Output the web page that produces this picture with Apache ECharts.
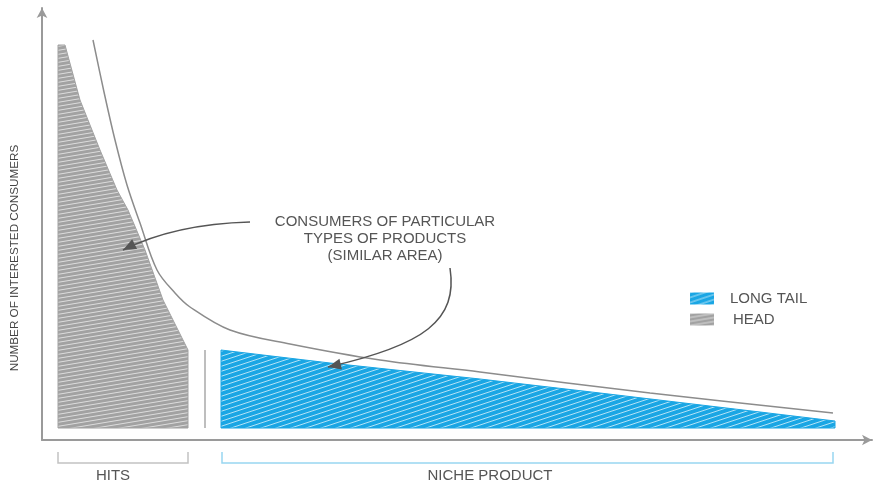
<!DOCTYPE html>
<html>
<head>
<meta charset="utf-8">
<script src="https://cdn.jsdelivr.net/npm/echarts@6/dist/echarts.min.js"></script>
<style>
html,body{margin:0;padding:0;background:#fff;}
#c{width:873px;height:486px;}
</style>
</head>
<body>
<div id="c"></div>
<script>
// ---- data (x: product rank scale, y: number of interested consumers) ----
const headX = [16, 16, 23, 38, 58, 75, 86, 103, 121, 146, 146];
const headY = [12, 395, 395, 340, 290, 250, 230, 190, 140, 90, 12];
const tailX = [179, 179, 288, 438, 558, 718, 793, 793];
const tailY = [12, 90, 77, 61, 47, 28, 19, 12];
const curveX = [51, 62, 73, 85, 98, 115, 133, 148, 188, 248, 338, 438, 608, 791];
const curveY = [400, 348, 300, 255, 217, 170, 147, 133, 110, 96, 80, 68, 47, 27];
const separatorX = 163;
const separatorY = [12, 90];
const noteLines = ['CONSUMERS OF PARTICULAR', 'TYPES OF PRODUCTS', '(SIMILAR AREA)'];
const noteAnchor = [343, 218];
const arrowHeadCurve = [[208, 218], [133, 216], [81, 190]];
const arrowTailCurve = [[408, 172], [416, 120], [383, 95], [286, 73]];
const segmentNames = ['HITS', 'NICHE PRODUCT'];
const segmentStart = [16, 180];
const segmentEnd = [146, 791];
const segmentLabelX = [71, 448];
const seriesNames = ['LONG TAIL', 'HEAD'];
const yTitle = 'NUMBER OF INTERESTED CONSUMERS';

function hatch(bg, w, h, step, lw, alpha) {
  const c = document.createElement('canvas');
  c.width = w; c.height = h;
  const g = c.getContext('2d');
  g.fillStyle = bg; g.fillRect(0, 0, w, h);
  g.strokeStyle = 'rgba(255,255,255,' + alpha + ')';
  g.lineWidth = lw;
  for (let o = -h; o <= 2 * h; o += step) {
    g.beginPath(); g.moveTo(0, o); g.lineTo(w, o - h); g.stroke();
  }
  return c;
}
const blueC = '#1aa6e4';
const grayC = '#a2a2a2';
const bluePat = { image: hatch(blueC, 45, 15, 5, 0.9, 0.75), repeat: 'repeat' };
const grayPat = { image: hatch(grayC, 72, 12, 4, 0.9, 0.7), repeat: 'repeat' };

function polySeries(name, xs, ys, pat, col) {
  return {
    name: name, type: 'custom', data: [[xs[0], ys[0]]], silent: true,
    itemStyle: { color: col },
    renderItem: function (params, api) {
      const pts = xs.map((x, i) => api.coord([x, ys[i]]));
      return { type: 'polygon', shape: { points: pts },
        style: { fill: pat, stroke: col, lineWidth: 1 } };
    }
  };
}

function arrowHead(tip, from, len, half, color) {
  const dx = tip[0] - from[0], dy = tip[1] - from[1];
  const d = Math.sqrt(dx * dx + dy * dy);
  const ux = dx / d, uy = dy / d;
  const bx = tip[0] - ux * len, by = tip[1] - uy * len;
  return { type: 'polygon', shape: { points: [tip, [bx - uy * half, by + ux * half], [bx + uy * half, by - ux * half]] },
    style: { fill: color } };
}

const textColor = '#555';
const fontFam = '"Liberation Sans", Arial, sans-serif';

const annotations = {
  name: 'notes', type: 'custom', data: [[0, 0]], silent: true, z: 10,
  renderItem: function (params, api) {
    const ch = [];
    const s0 = api.coord([separatorX, separatorY[0]]), s1 = api.coord([separatorX, separatorY[1]]);
    ch.push({ type: 'line', shape: { x1: s0[0], y1: s0[1], x2: s1[0], y2: s1[1] }, style: { stroke: '#a8a8a8', lineWidth: 1.5 } });
    const a = api.coord(noteAnchor);
    noteLines.forEach((t, i) => {
      ch.push({ type: 'text', style: { text: t, x: a[0], y: a[1] + i * 17, align: 'center', verticalAlign: 'middle',
        fill: textColor, font: '15px ' + fontFam } });
    });
    const p = arrowHeadCurve.map(v => api.coord(v));
    ch.push({ type: 'bezierCurve', shape: { x1: p[0][0], y1: p[0][1], cpx1: p[1][0], cpy1: p[1][1], x2: p[2][0], y2: p[2][1] },
      style: { stroke: '#555', lineWidth: 1.5, fill: null } });
    ch.push(arrowHead(p[2], p[1], 13, 5.5, '#555'));
    const q = arrowTailCurve.map(v => api.coord(v));
    ch.push({ type: 'bezierCurve', shape: { x1: q[0][0], y1: q[0][1], cpx1: q[1][0], cpy1: q[1][1], cpx2: q[2][0], cpy2: q[2][1], x2: q[3][0], y2: q[3][1] },
      style: { stroke: '#555', lineWidth: 1.5, fill: null } });
    ch.push(arrowHead(q[3], q[2], 13, 5.5, '#555'));
    const bColors = ['#c2c2c2', '#98d6f1'];
    segmentNames.forEach((nm, i) => {
      const l = api.coord([segmentStart[i], -12]), r = api.coord([segmentEnd[i], -12]);
      const yb = l[1] + 11;
      ch.push({ type: 'polyline', shape: { points: [[l[0], l[1]], [l[0], yb], [r[0], yb], [r[0], l[1]]] },
        style: { stroke: bColors[i], lineWidth: 1.5, fill: null } });
      const lx = api.coord([segmentLabelX[i], 0])[0];
      ch.push({ type: 'text', style: { text: nm, x: lx, y: yb + 13, align: 'center', verticalAlign: 'middle',
        fill: textColor, font: '15px ' + fontFam } });
    });
    return { type: 'group', children: ch };
  }
};

const chart = echarts.init(document.getElementById('c'));
chart.setOption({
  animation: false,
  grid: { left: 42, right: 1, top: 8, bottom: 46 },
  xAxis: { type: 'value', min: 0, max: 830,
    axisLine: { lineStyle: { color: '#9a9a9a', width: 2 }, symbol: ['none', 'arrow'], symbolSize: [8, 10] },
    axisTick: { show: false }, axisLabel: { show: false }, splitLine: { show: false } },
  yAxis: { type: 'value', min: 0, max: 432,
    axisLine: { show: true, lineStyle: { color: '#9a9a9a', width: 2 }, symbol: ['none', 'arrow'], symbolSize: [8, 10] },
    axisTick: { show: false }, axisLabel: { show: false }, splitLine: { show: false } },
  legend: {
    orient: 'vertical', left: 690, top: 291, padding: 0, itemWidth: 24, itemHeight: 12, itemGap: 6,
    textStyle: { color: textColor, fontSize: 15, fontFamily: fontFam, padding: [0, 0, 0, 11] },
    data: [
      { name: seriesNames[0], icon: 'rect', itemStyle: { color: bluePat } },
      { name: seriesNames[1], icon: 'rect', itemStyle: { color: grayPat }, textStyle: { padding: [0, 0, 0, 14] } }
    ]
  },
  graphic: [{ type: 'text', x: 15, y: 258, rotation: Math.PI / 2,
    style: { text: yTitle, align: 'center', verticalAlign: 'middle', fill: '#444', font: '11.7px ' + fontFam } }],
  series: [
    polySeries(seriesNames[0], tailX, tailY, bluePat, blueC),
    polySeries(seriesNames[1], headX, headY, grayPat, grayC),
    { name: 'curve', type: 'line', data: curveX.map((x, i) => [x, curveY[i]]), smooth: 0.35, showSymbol: false, silent: true,
      lineStyle: { color: '#8c8c8c', width: 1.5 }, z: 5 },
    annotations
  ]
});
</script>
</body>
</html>
